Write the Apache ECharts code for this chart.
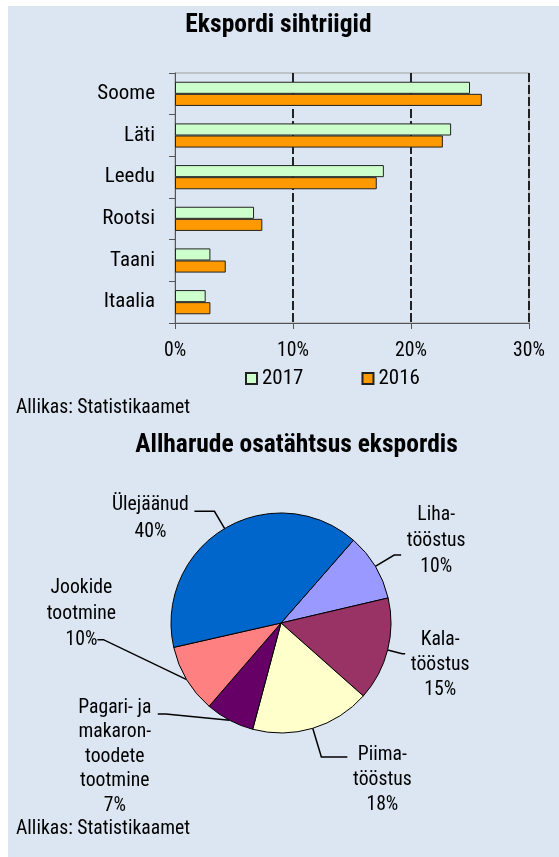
<!DOCTYPE html>
<html>
<head>
<meta charset="utf-8">
<script src="https://cdn.jsdelivr.net/npm/echarts@6/dist/echarts.min.js"></script>
<style>
    body { margin: 0; background: #fff; }
    #chart { position: absolute; left: 8px; top: 6px; width: 551px; height: 851px; background: #dce6f2; }
</style>
</head>
<body>
<div id="chart"></div>
<script>
"use strict";

// ekspordi sihtriigid, % of export
var categories = ['Soome', 'Läti', 'Leedu', 'Rootsi', 'Taani', 'Itaalia'];
var years = ['2017', '2016'];
var values2017 = [25.0, 23.4, 17.7, 6.7, 3.0, 2.6];
var values2016 = [26.0, 22.7, 17.1, 7.4, 4.3, 3.0];
var xMin = 0, xMax = 30, xStep = 10;

// allharude osatähtsus ekspordis
var pieNames = ['Liha-\ntööstus', 'Kala-\ntööstus', 'Piima-\ntööstus', 'Pagari- ja\nmakaron-\ntoodete\ntootmine', 'Jookide\ntootmine', 'Ülejäänud'];
var pieValues = [9.9, 15.2, 17.6, 7.2, 10.1, 40.0];

var FONT = "'Roboto Condensed', Roboto, sans-serif";
var FS = 19.7;
var pieColors = ['#9999ff', '#993366', '#ffffcc', '#660066', '#ff8080', '#0066cc'];
// label block width, leader lengths, padding (moves text against the leader end)
var pieLabelLook = [
    { w: 60, len: 22, len2: 7, pad: [0, 0, 27, 0], lh: 26 },
    { w: 60, len: 15, len2: 3, pad: [23, 0, 0, 0], lh: 25 },
    { w: 60, len: 30, len2: 26, pad: [46, 0, 0, 0], lh: 25 },
    { w: 76, len: 6, len2: 69, pad: [63, 0, 0, 0], lh: 24.5 },
    { w: 70, len: 5, len2: 61, pad: [0, 0, 137, 0], lh: 26 },
    { w: 78, len: 20, len2: 20, pad: [14, 0, 0, 0], lh: 27 }
];

var pieData = pieNames.map(function (name, i) {
    var look = pieLabelLook[i];
    return {
        name: name,
        value: pieValues[i],
        itemStyle: { color: pieColors[i] },
        label: {
            padding: look.pad,
            rich: { a: { width: look.w, align: 'center', lineHeight: look.lh, fontSize: FS, fontFamily: FONT, color: '#000' } }
        },
        labelLine: { length: look.len, length2: look.len2 }
    };
});

// the two left-bottom leaders bend upward in the original, toward a text line
function bendLeaders(params) {
    var pts = params.labelLinePoints;
    var r = params.labelRect;
    if (!pts) return {};
    var right = r.x + r.width;
    if (params.dataIndex === 3) {
        var y3 = r.y + 16;
        return { labelLinePoints: [pts[0], [right + 13, y3], [right + 5, y3]] };
    }
    if (params.dataIndex === 4) {
        var y4 = r.y + 62;
        return { labelLinePoints: [pts[0], [right - 13, y4], [right - 19, y4]] };
    }
    return {};
}

var myChart = echarts.init(document.getElementById('chart'));

var option = {
    animation: false,
    textStyle: { fontFamily: FONT, color: '#000' },
    title: [
        {
            text: 'Ekspordi sihtriigid', left: 270.5, top: 20, padding: 0,
            textAlign: 'center', textVerticalAlign: 'middle',
            textStyle: { fontFamily: FONT, fontSize: 25.5, fontWeight: 'bold', color: '#000' }
        },
        {
            text: 'Allikas: Statistikaamet', left: 8, top: 402, padding: 0,
            textVerticalAlign: 'middle',
            textStyle: { fontFamily: FONT, fontSize: FS, fontWeight: 'normal', color: '#000' }
        },
        {
            text: 'Allharude osatähtsus ekspordis', left: 288.5, top: 440, padding: 0,
            textAlign: 'center', textVerticalAlign: 'middle',
            textStyle: { fontFamily: FONT, fontSize: 25.5, fontWeight: 'bold', color: '#000' }
        },
        {
            text: 'Allikas: Statistikaamet', left: 8, top: 823.5, padding: 0,
            textVerticalAlign: 'middle',
            textStyle: { fontFamily: FONT, fontSize: FS, fontWeight: 'normal', color: '#000' }
        }
    ],
    legend: {
        data: years,
        left: 237,
        top: 362,
        padding: 0,
        icon: 'rect',
        itemWidth: 11,
        itemHeight: 11,
        itemGap: 58,
        textStyle: { fontFamily: FONT, fontSize: 21, color: '#000', lineHeight: 20 }
    },
    grid: {
        left: 167,
        top: 67,
        width: 354,
        height: 250,
        show: true,
        borderColor: '#a0a0a0',
        borderWidth: 1,
        backgroundColor: 'transparent'
    },
    xAxis: {
        type: 'value',
        min: xMin,
        max: xMax,
        interval: xStep,
        axisLine: { show: true, lineStyle: { color: '#555', width: 1 } },
        axisTick: { show: true, length: 6, lineStyle: { color: '#555' } },
        axisLabel: { formatter: '{value}%', fontSize: FS, color: '#000', margin: 18 },
        splitLine: {
            show: true,
            showMinLine: false,
            lineStyle: { color: '#222', width: 2, type: [9, 3] }
        }
    },
    yAxis: {
        type: 'category',
        data: categories,
        inverse: true,
        axisLine: { show: true, lineStyle: { color: '#555', width: 1 } },
        axisTick: { show: true, length: 6, lineStyle: { color: '#555' } },
        axisLabel: { fontSize: 21, color: '#000', margin: 20 },
        splitLine: { show: false }
    },
    series: [
        {
            name: '2017',
            type: 'bar',
            data: values2017,
            barGap: '0%',
            barCategoryGap: '42%',
            itemStyle: { color: '#ccffcc', borderColor: '#222', borderWidth: 1 }
        },
        {
            name: '2016',
            type: 'bar',
            data: values2016,
            barGap: '0%',
            barCategoryGap: '42%',
            itemStyle: { color: '#ff9900', borderColor: '#222', borderWidth: 1 }
        },
        {
            name: 'Allharud',
            type: 'pie',
            center: [273, 617],
            radius: 110,
            startAngle: 48.8,
            clockwise: true,
            avoidLabelOverlap: false,
            percentPrecision: 0,
            data: pieData,
            itemStyle: { borderColor: '#000', borderWidth: 1 },
            label: {
                show: true,
                position: 'outside',
                distanceToLabelLine: 5,
                formatter: function (p) {
                    var lines = p.name.split('\n').map(function (s) { return '{a|' + s + '}'; });
                    lines.push('{a|' + p.percent + '%}');
                    return lines.join('\n');
                }
            },
            labelLine: {
                show: true,
                lineStyle: { color: '#000', width: 1.5 }
            },
            labelLayout: bendLeaders,
            emphasis: { disabled: true }
        }
    ]
};

if (option && typeof option === "object") {
    myChart.setOption(option, true);
}
</script>
</body>
</html>
